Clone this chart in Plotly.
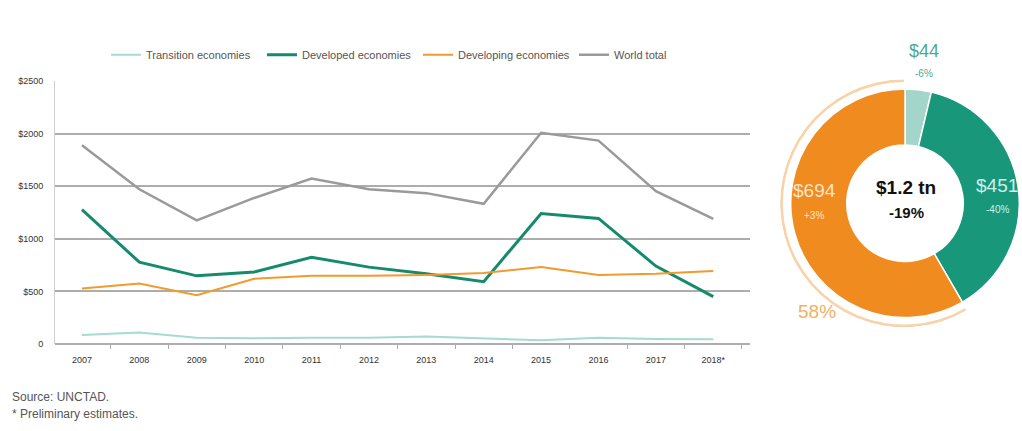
import plotly.graph_objects as go

# FDI flows by group of economies, 2007-2018* (billions of dollars)
years = ["2007", "2008", "2009", "2010", "2011", "2012",
         "2013", "2014", "2015", "2016", "2017", "2018*"]
transition = [86, 110, 60, 55, 60, 60, 70, 55, 35, 60, 47, 44]
developed = [1278, 778, 648, 685, 824, 731, 667, 593, 1241, 1194, 741, 451]
developing = [528, 574, 463, 620, 648, 648, 657, 676, 731, 657, 667, 694]
world = [1890, 1472, 1176, 1389, 1574, 1472, 1435, 1333, 2009, 1935, 1454, 1189]

y_ticks = [0, 500, 1000, 1500, 2000, 2500]
y_tick_text = ["0", "$500", "$1000", "$1500", "$2000", "$2500"]

# 2018 breakdown shown in the donut
groups = ["Transition economies", "Developed economies", "Developing economies"]
values_2018 = [44, 451, 694]
value_text = ["$44", "$451", "$694"]
change_text = ["-6%", "-40%", "+3%"]
total_text = "$1.2 tn"
total_change = "-19%"

C_TRANS = "#a6dbcf"
C_DEVD = "#168a6c"
C_DEVG = "#f19a2e"
C_WORLD = "#9a9a9a"
DONUT_COLORS = ["#a3d5ca", "#19977a", "#f08b1f"]

FONT = "Liberation Sans, Arial, sans-serif"
W, H = 1022, 431


def px_x(p):
    return p / W


def px_y(p):
    return 1 - p / H


x_idx = list(range(len(years)))
fig = go.Figure()

series = [
    ("Transition economies", transition, C_TRANS, 2),
    ("Developed economies", developed, C_DEVD, 3),
    ("Developing economies", developing, C_DEVG, 2),
    ("World total", world, C_WORLD, 2.5),
]
for name, vals, col, w in series:
    fig.add_trace(go.Scatter(
        x=x_idx, y=vals, name=name, mode="lines",
        line=dict(color=col, width=w),
        xaxis="x", yaxis="y", hoverinfo="skip",
    ))

# Donut of 2018 flows
fig.add_trace(go.Pie(
    labels=groups, values=values_2018, sort=False,
    direction="clockwise", rotation=0, hole=0.51,
    marker=dict(colors=DONUT_COLORS, line=dict(color="white", width=1.5)),
    textinfo="none", showlegend=False, hoverinfo="skip",
    domain=dict(x=[px_x(788), 1.0], y=[px_y(320), px_y(86)]),
))

# Thin outer arc spanning the developing-economies share
total = sum(values_2018)
share_devg = values_2018[2] / total
start_deg = (values_2018[0] + values_2018[1]) / total * 360
arc_width = share_devg * 360
fig.add_trace(go.Barpolar(
    theta=[start_deg + arc_width / 2], width=[arc_width],
    r=[0.022], base=[0.978],
    marker=dict(color="#f8d3aa", line=dict(width=0)),
    subplot="polar", showlegend=False, hoverinfo="skip",
))

share_pct = f"{round(share_devg * 100)}%"

axis_grey = "#adadad"
fig.update_layout(
    width=W, height=H,
    margin=dict(l=0, r=0, t=0, b=0),
    paper_bgcolor="white", plot_bgcolor="white",
    font=dict(family=FONT, color="#444"),
    showlegend=True,
    legend=dict(
        orientation="h", x=px_x(106), y=px_y(51), yanchor="middle",
        xanchor="left", font=dict(size=11, color="#555"),
        bgcolor="rgba(0,0,0,0)", itemwidth=30,
        entrywidth=111, entrywidthmode="pixels",
    ),
    xaxis=dict(
        domain=[px_x(55), px_x(750)], range=[-0.47, 11.64],
        tickvals=x_idx, ticktext=years, ticks="",
        showgrid=False, zeroline=False, showline=False,
        tickfont=dict(size=9, color="#333"), ticklabelstandoff=9,
        minor=dict(ticks="outside", tick0=0.5, dtick=1, ticklen=4,
                   tickcolor=axis_grey, showgrid=False),
        fixedrange=True,
    ),
    yaxis=dict(
        domain=[px_y(347), px_y(78)], range=[0, 2500],
        tickvals=y_ticks, ticktext=y_tick_text,
        showgrid=True, gridcolor=axis_grey, gridwidth=1.5,
        zeroline=True, zerolinecolor=axis_grey, zerolinewidth=1.5,
        showline=True, linecolor="#cfcfcf", linewidth=1,
        tickfont=dict(size=9, color="#333"), ticklabelstandoff=9,
        ticks="", fixedrange=True,
    ),
    polar=dict(
        domain=dict(x=[px_x(778), px_x(968.5)], y=[px_y(330), px_y(76)]),
        sector=[90, 90 + arc_width],
        bgcolor="rgba(0,0,0,0)",
        radialaxis=dict(visible=False, range=[0, 1]),
        angularaxis=dict(visible=False, rotation=90, direction="clockwise"),
    ),
)

ann = []


def label(x, y, text, size, color, bold=False):
    if bold:
        text = f"<b>{text}</b>"
    ann.append(dict(
        x=px_x(x), y=px_y(y), xref="paper", yref="paper",
        text=text, showarrow=False, xanchor="center", yanchor="middle",
        font=dict(size=size, color=color, family=FONT),
    ))


label(924, 47, value_text[0], 18, "#4aa994")
label(924, 70, change_text[0], 10, "#4aa994")
label(997, 185, value_text[1], 19, "#cdf1e8")
label(997, 209, change_text[1], 10, "#cdf1e8")
label(814, 190, value_text[2], 19, "#fde4c8")
label(814, 215, change_text[2], 10, "#fde4c8")
label(817, 314, share_pct, 19, "#f4b062")
label(906, 187, total_text, 19, "#111", bold=True)
label(906, 212, total_change, 15, "#111", bold=True)

for y, t in [(401, "Source: UNCTAD."), (419, "* Preliminary estimates.")]:
    ann.append(dict(
        x=px_x(10), y=px_y(y), xref="paper", yref="paper", text=t,
        showarrow=False, xanchor="left", yanchor="middle",
        font=dict(size=12, color="#555", family=FONT),
    ))

fig.update_layout(annotations=ann)

fig.write_html("out.html")
